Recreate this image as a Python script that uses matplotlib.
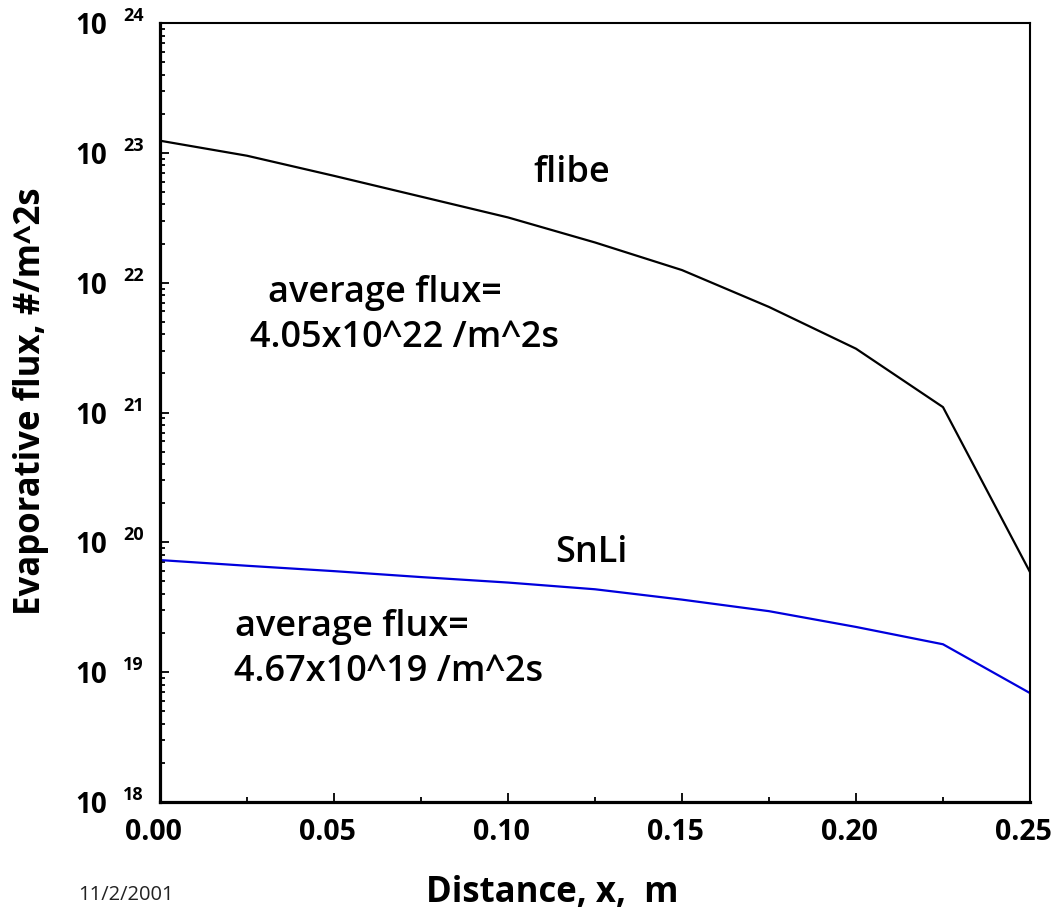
import numpy as np
import matplotlib
matplotlib.use("Agg")
import matplotlib.pyplot as plt
from matplotlib.ticker import FixedLocator, LogLocator, NullFormatter
from matplotlib.transforms import ScaledTranslation

plt.rcParams['font.family'] = ['Open Sans', 'DejaVu Sans']

# distance along the surface, m
distance = [0.0, 0.025, 0.05, 0.075, 0.1, 0.125, 0.15, 0.175, 0.2, 0.225, 0.25]
# evaporative flux, #/m^2s
flibe_flux = [1.24e23, 9.5e22, 6.65e22, 4.6e22, 3.18e22, 2.04e22,
              1.25e22, 6.5e21, 3.1e21, 1.1e21, 5.9e19]
snli_flux = [7.3e19, 6.6e19, 6.0e19, 5.4e19, 4.9e19, 4.35e19,
             3.62e19, 2.95e19, 2.23e19, 1.64e19, 6.9e18]

x_ticks = [0.0, 0.05, 0.10, 0.15, 0.20, 0.25]
x_tick_labels = ["0.00", "0.05", "0.10", "0.15", "0.20", "0.25"]
decades = [18, 19, 20, 21, 22, 23, 24]

fig = plt.figure(figsize=(10.55, 9.10), dpi=100)
ax = fig.add_axes([160/1055, 1 - 802/910, 870/1055, 779/910])

ax.plot(distance, flibe_flux, color='black', lw=1.6)
ax.plot(distance, snli_flux, color='#0000dd', lw=1.6)

ax.set_yscale('log')
ax.set_xlim(0, 0.25)
ax.set_ylim(1e18, 1e24)

# x axis: labels drawn as text so they can sit a little left of the ticks
ax.set_xticks(x_ticks)
ax.set_xticklabels([])
ax.xaxis.set_minor_locator(FixedLocator(np.arange(0.025, 0.25, 0.05)))
shift = ScaledTranslation(-7/100, -31/100, fig.dpi_scale_trans)
for xt, s in zip(x_ticks, x_tick_labels):
    ax.text(xt, 0, s, transform=ax.get_xaxis_transform() + shift,
            fontsize=20.5, fontweight='bold', ha='center', va='center')

# y axis: "10" as tick label, exponent as separate text
ax.set_yticks([10.0**d for d in decades])
ax.set_yticklabels(["10"] * len(decades), fontsize=20, fontweight='bold')
ax.yaxis.set_minor_locator(LogLocator(base=10, subs=np.arange(2, 10)))
ax.yaxis.set_minor_formatter(NullFormatter())
for lab in ax.get_yticklabels():
    lab.set_transform(lab.get_transform() + ScaledTranslation(0, -5/100, fig.dpi_scale_trans))
for d in decades:
    ax.annotate(str(d), xy=(0, 10.0**d), xycoords=('axes fraction', 'data'),
                xytext=(-37*0.72, 7*0.72), textcoords='offset points',
                ha='left', va='center', fontsize=13, fontweight='bold')

ax.tick_params(which='both', direction='in', top=False, right=False, width=1.3)
ax.tick_params(which='major', length=6.5)
ax.tick_params(which='minor', length=3.6)
ax.tick_params(axis='y', which='major', pad=38)

for side in ['left', 'bottom']:
    ax.spines[side].set_linewidth(2.3)
for side in ['top', 'right']:
    ax.spines[side].set_linewidth(1.5)

# annotations (positions in axes fraction)
notes = [
    ((533-160)/870, 1 - (173-23)/779, "flibe"),
    ((268-160)/870, 1 - (293-23)/779, "average flux="),
    ((250-160)/870, 1 - (338-23)/779, "4.05x10^22 /m^2s"),
    ((555-160)/870, 1 - (553-23)/779, "SnLi"),
    ((235-160)/870, 1 - (627-23)/779, "average flux="),
    ((234-160)/870, 1 - (672-23)/779, "4.67x10^19 /m^2s"),
]
for nx, ny, s in notes:
    ax.text(nx, ny, s, transform=ax.transAxes, fontsize=26, fontweight='semibold',
            va='center', ha='left')

fig.text(552/1055, 1 - 893/910, "Distance, x,  m", fontsize=25, fontweight='bold',
         ha='center', va='center')
fig.text(31/1055, 1 - 401/910, "Evaporative flux, #/m^2s", fontsize=25, fontweight='bold',
         ha='center', va='center', rotation=90)
fig.text(78/1055, 1 - 895/910, "11/2/2001", fontsize=14.5, color='#222222',
         ha='left', va='center')

fig.savefig("out.png", dpi=100)
